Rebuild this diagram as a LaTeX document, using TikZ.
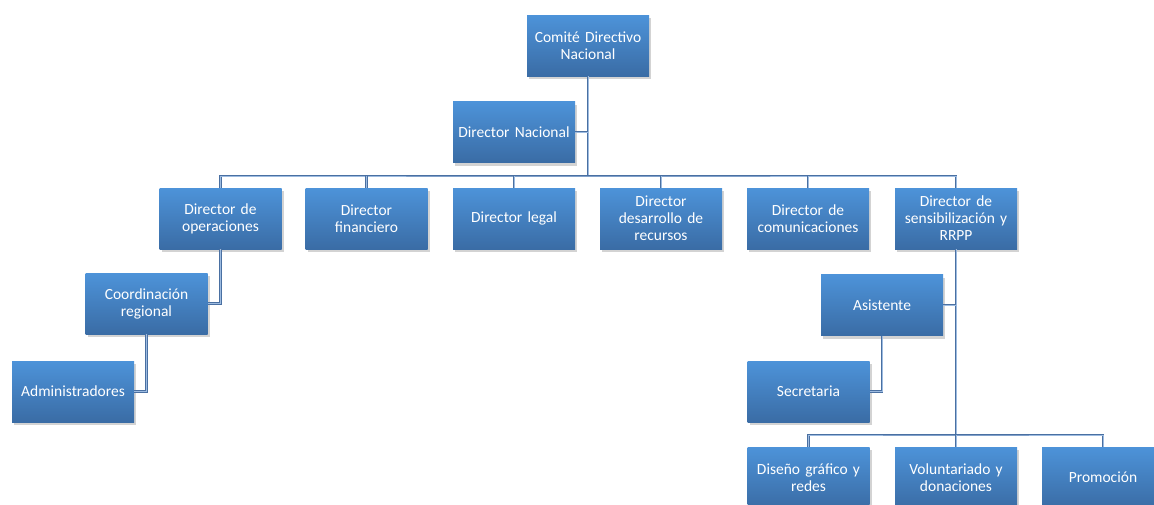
\documentclass[tikz,border=0pt]{standalone}
\usepackage{fontspec}
\setmainfont{Carlito}
\usetikzlibrary{shadows}
\definecolor{boxtop}{HTML}{4D93D9}
\definecolor{boxbot}{HTML}{3A6CA5}
\definecolor{lineout}{HTML}{4A70A2}
\definecolor{linein}{HTML}{9DBBE0}
\tikzset{
  orgbox/.style={rectangle, minimum width=122pt, minimum height=61pt, text width=120pt,
    align=center, inner sep=1pt, top color=boxtop, bottom color=boxbot, draw=none,
    text=white, font=\fontsize{15.5}{17}\selectfont,
    drop shadow={opacity=0.35, shadow xshift=2pt, shadow yshift=-3pt}},
  conn/.style={draw=lineout, double=linein, line width=0.7pt, double distance=1pt}
}
\begin{document}
\begin{tikzpicture}[x=1pt,y=-1pt]
\useasboundingbox (0,0) rectangle (1154,504);
\clip (0,0) rectangle (1154,504);
\node[orgbox] (com) at (588,45.5) {Comité Directivo\\Nacional};
\node[orgbox] (dn) at (514,132) {Director Nacional};
\node[orgbox] (op) at (220.5,218.5) {Director de\\operaciones};
\node[orgbox] (fin) at (366.5,218.5) {Director\\financiero};
\node[orgbox] (leg) at (514,218.5) {Director legal};
\node[orgbox] (des) at (661,218.5) {Director\\desarrollo de\\recursos};
\node[orgbox] (comu) at (808,218.5) {Director de\\comunicaciones};
\node[orgbox] (sens) at (956,218.5) {Director de\\sensibilización y\\RRPP};
\node[orgbox] (coord) at (146.5,303.5) {Coordinación\\regional};
\node[orgbox] (adm) at (73,391.5) {Administradores};
\node[orgbox] (asis) at (882,305) {Asistente};
\node[orgbox] (sec) at (808.5,391.5) {Secretaria};
\node[orgbox] (dis) at (808.5,477.5) {Diseño gráfico y\\redes};
\node[orgbox] (vol) at (956,477.5) {Voluntariado y\\donaciones};
\node[orgbox] (pro) at (1103,477.5) {Promoción};
\coordinate (bus1) at (588,176);
\coordinate (bus2) at (956,435);
% connectors
\draw[conn] (com.south) -- (bus1);
\draw[conn] (dn.east) -- (dn.east -| bus1);
\draw[conn] (op.north) |- (bus1) -| (sens.north);
\draw[conn] (fin.north) -- (fin.north |- bus1);
\draw[conn] (leg.north) -- (leg.north |- bus1);
\draw[conn] (des.north) -- (des.north |- bus1);
\draw[conn] (comu.north) -- (comu.north |- bus1);
\draw[conn] (op.south) |- (coord.east);
\draw[conn] (coord.south) |- (adm.east);
\draw[conn] (sens.south) -- (bus2);
\draw[conn] (asis.east) -- (asis.east -| bus2);
\draw[conn] (asis.south) |- (sec.east);
\draw[conn] (dis.north) |- (bus2) -| (pro.north);
\draw[conn] (vol.north) -- (bus2);
\end{tikzpicture}
\end{document}
